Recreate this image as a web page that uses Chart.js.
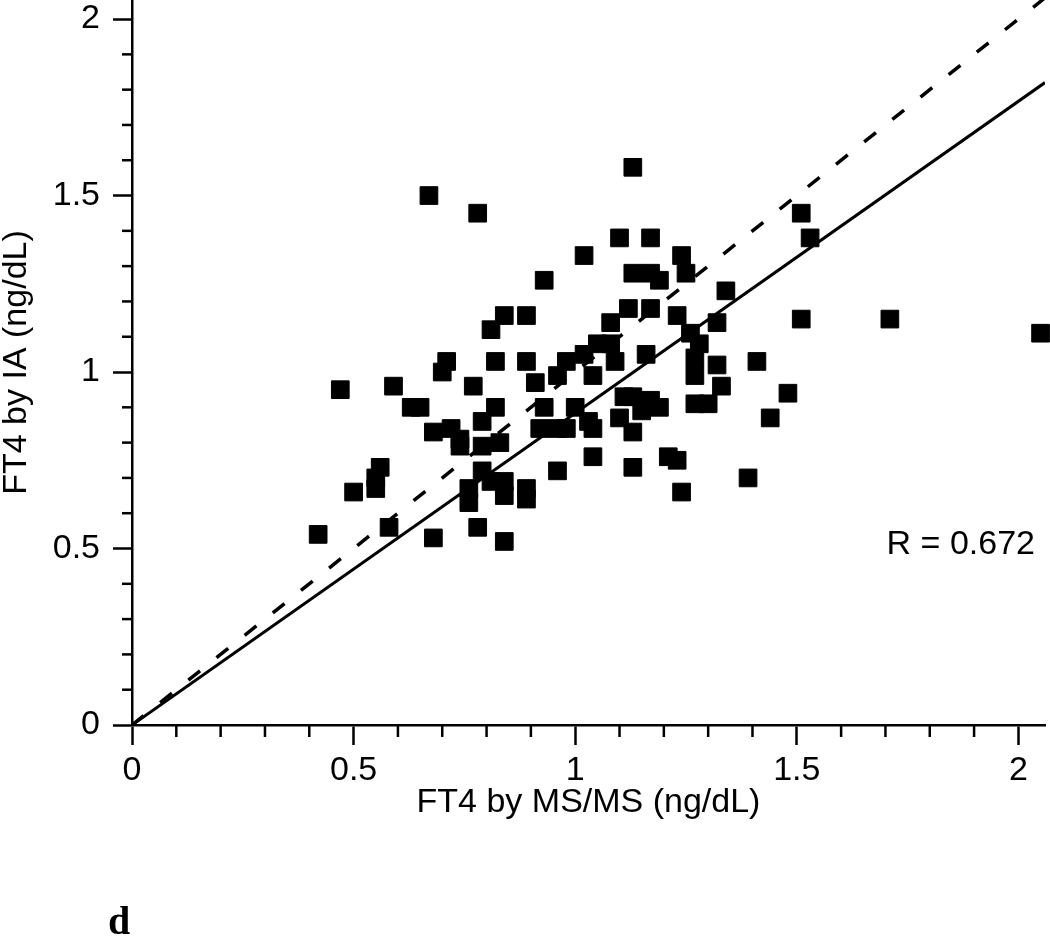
<!DOCTYPE html>
<html>
<head>
<meta charset="utf-8">
<script src="https://cdn.jsdelivr.net/npm/chart.js@4.4.1/dist/chart.umd.min.js"></script>
<style>
  html, body { margin: 0; padding: 0; background: #fff; }
  #wrap { width: 1050px; height: 938px; }
</style>
</head>
<body>
<div id="wrap"><canvas id="ft4Chart" width="1050" height="938"></canvas></div>
<script>
// FT4 by MS/MS (x) vs FT4 by IA (y), ng/dL
var msms = [
  2.05, 1.71, 1.51, 1.51, 1.53, 1.13, 0.67, 0.78, 1.39, 1.44,
  1.48, 1.41, 1.34, 0.42, 0.47, 0.50, 1.02, 0.93, 0.84, 0.89,
  0.81, 0.82, 0.89, 0.71, 0.70, 0.59, 0.77, 0.91, 0.96, 0.63,
  0.65, 0.68, 0.72, 0.74, 0.74, 0.79, 0.83, 0.79, 0.82, 0.93,
  0.92, 0.96, 0.98, 1.00, 1.03, 0.98, 1.02, 1.05, 1.08, 1.04,
  1.09, 1.16, 1.10, 1.17, 1.24, 1.25, 1.13, 1.17, 1.19, 1.12,
  1.17, 1.08, 1.23, 1.32, 1.26, 1.28, 1.27, 1.27, 1.32, 1.33,
  1.27, 1.30, 1.11, 1.13, 1.17, 1.19, 1.10, 1.13, 1.04, 1.04,
  1.13, 1.21, 1.23, 1.24, 0.96, 0.79, 0.81, 0.84, 0.84, 0.76,
  0.76, 0.78, 0.84, 0.89, 0.89, 0.68, 0.58, 0.56, 0.55, 0.55,
  1.15
];
var ia = [
  1.11, 1.15, 1.15, 1.45, 1.38, 1.58, 1.50, 1.45, 0.70, 0.87,
  0.94, 1.03, 1.23, 0.54, 0.95, 0.66, 1.33, 1.26, 1.16, 1.16,
  1.12, 1.03, 1.03, 1.03, 1.00, 0.96, 0.96, 0.97, 0.99, 0.90,
  0.90, 0.83, 0.84, 0.81, 0.79, 0.79, 0.80, 0.86, 0.90, 0.90,
  0.84, 0.84, 0.84, 0.90, 0.86, 1.03, 1.05, 1.08, 1.08, 0.99,
  1.03, 1.05, 1.38, 1.38, 1.33, 1.28, 1.28, 1.28, 1.26, 1.18,
  1.18, 1.14, 1.16, 1.14, 1.11, 1.08, 1.04, 0.99, 1.02, 0.96,
  0.91, 0.91, 0.93, 0.93, 0.92, 0.90, 0.87, 0.83, 0.84, 0.76,
  0.73, 0.76, 0.75, 0.66, 0.72, 0.72, 0.69, 0.69, 0.65, 0.67,
  0.63, 0.56, 0.52, 0.67, 0.64, 0.53, 0.56, 0.73, 0.70, 0.67,
  0.89
];

// regression line (solid) and line of identity (dashed)
var fitX = [0, 2.06];
var fitY = [0, 1.82];
var idX = [0, 2.06];
var idY = [0, 2.06];

var xTicks = [0, 0.5, 1, 1.5, 2];
var xTickLabels = ["0", "0.5", "1", "1.5", "2"];
var yTicks = [0, 0.5, 1, 1.5, 2];
var yTickLabels = ["0", "0.5", "1", "1.5", "2"];
var minorStep = 0.1;
var rText = "R = 0.672";
var panelLabel = "d";

function toPoints(xs, ys) {
  return xs.map(function (x, i) { return { x: x, y: ys[i] }; });
}

Chart.defaults.font.family = "'Liberation Sans', Arial, sans-serif";
Chart.defaults.font.size = 34;
Chart.defaults.color = "#000";

// short minor ticks + annotation text
var extras = {
  id: "extras",
  afterDraw: function (chart) {
    var ctx = chart.ctx;
    var xs = chart.scales.x, ys = chart.scales.y;
    var area = chart.chartArea;
    ctx.save();
    ctx.strokeStyle = "#000";
    ctx.lineWidth = 2.5;
    for (var v = minorStep; v < xs.max; v += minorStep) {
      var r = Math.round(v * 10) / 10;
      if (Math.abs(r * 2 - Math.round(r * 2)) < 1e-6) continue;
      var px = xs.getPixelForValue(r);
      ctx.beginPath();
      ctx.moveTo(px, area.bottom);
      ctx.lineTo(px, area.bottom + 12);
      ctx.stroke();
    }
    for (var w = minorStep; w < ys.max; w += minorStep) {
      var q = Math.round(w * 10) / 10;
      if (Math.abs(q * 2 - Math.round(q * 2)) < 1e-6) continue;
      var py = ys.getPixelForValue(q);
      ctx.beginPath();
      ctx.moveTo(area.left, py);
      ctx.lineTo(area.left - 10, py);
      ctx.stroke();
    }
    ctx.fillStyle = "#000";
    ctx.font = "34px 'Liberation Sans', Arial, sans-serif";
    ctx.textAlign = "right";
    ctx.textBaseline = "middle";
    ctx.fillText(rText, area.right - 10, ys.getPixelForValue(0.51));
    ctx.font = "bold 40px 'Liberation Serif', 'Times New Roman', serif";
    ctx.textAlign = "left";
    ctx.textBaseline = "alphabetic";
    ctx.fillText(panelLabel, 108, 934);
    ctx.restore();
  }
};

new Chart(document.getElementById("ft4Chart").getContext("2d"), {
  type: "scatter",
  data: {
    datasets: [
      {
        label: "Samples",
        data: toPoints(msms, ia),
        pointStyle: "rect",
        pointRadius: 12.5,
        backgroundColor: "#000",
        borderColor: "#000",
        borderWidth: 1,
        clip: false,
      },
      {
        label: "Regression",
        data: toPoints(fitX, fitY),
        showLine: true,
        pointRadius: 0,
        borderColor: "#000",
        borderWidth: 3,
      },
      {
        label: "Identity",
        data: toPoints(idX, idY),
        showLine: true,
        pointRadius: 0,
        borderColor: "#000",
        borderWidth: 3.5,
        borderDash: [15, 21],
      },
    ],
  },
  options: {
    responsive: false,
    animation: false,
    devicePixelRatio: 1,
    layout: { autoPadding: false, padding: { left: 0, right: 5, top: 0, bottom: 0 } },
    plugins: { legend: { display: false }, tooltip: { enabled: false } },
    scales: {
      x: {
        type: "linear",
        min: 0,
        max: 2.06,
        afterBuildTicks: function (scale) {
          scale.ticks = xTicks.map(function (v) { return { value: v }; });
        },
        afterFit: function (scale) {
          scale.height = 213;
          scale.paddingLeft = 0;
          scale.paddingRight = 0;
        },
        ticks: {
          padding: 5,
          maxRotation: 0,
          autoSkip: false,
          callback: function (value) { return xTickLabels[xTicks.indexOf(value)]; },
        },
        grid: { drawOnChartArea: false, tickLength: 20, tickColor: "#000", tickWidth: 2.5 },
        border: { display: true, color: "#000", width: 2.5 },
        title: {
          display: true,
          text: "FT4 by MS/MS (ng/dL)",
          font: { size: 34, lineHeight: 1 },
          padding: { top: 0, bottom: 118 },
        },
      },
      y: {
        type: "linear",
        min: 0,
        max: 2.054,
        afterBuildTicks: function (scale) {
          scale.ticks = yTicks.map(function (v) { return { value: v }; });
        },
        afterFit: function (scale) {
          scale.width = 132;
          scale.paddingTop = 0;
          scale.paddingBottom = 0;
        },
        ticks: {
          padding: 13,
          autoSkip: false,
          callback: function (value) { return yTickLabels[yTicks.indexOf(value)]; },
        },
        grid: { drawOnChartArea: false, tickLength: 19, tickColor: "#000", tickWidth: 2.5 },
        border: { display: true, color: "#000", width: 2.5 },
        title: {
          display: true,
          text: "FT4 by IA (ng/dL)",
          font: { size: 34, lineHeight: 1 },
          padding: { top: 0, bottom: 0 },
        },
      },
    },
  },
  plugins: [extras],
});
</script>
</body>
</html>
